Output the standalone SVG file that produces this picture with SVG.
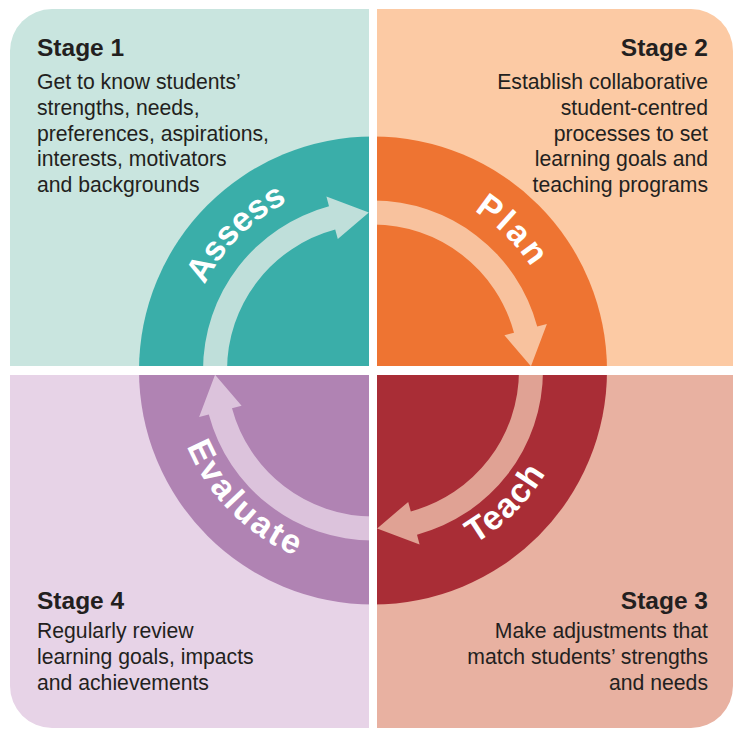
<svg xmlns="http://www.w3.org/2000/svg" xmlns:xlink="http://www.w3.org/1999/xlink" width="734" height="730" viewBox="0 0 734 730">
<style>
.t{font-family:"Liberation Sans",Arial,sans-serif;font-weight:bold;font-size:24.5px;fill:#231f20}
.b{font-family:"Liberation Sans",Arial,sans-serif;font-size:21.2px;fill:#231f20}
.r{text-anchor:end}
.lab{font-family:"Liberation Sans",Arial,sans-serif;font-weight:bold;font-size:34px;fill:#ffffff;text-anchor:middle}
</style>
<defs>
<path id="arcTop" d="M 184,370.5 A 189 189 0 0 1 562,370.5"/>
<path id="arcBot" d="M 172,370.5 A 201 201 0 0 0 574,370.5"/>
<path id="arrow" d="M -146,0 L -170,0 A 170 170 0 0 1 -44.0,-164.2 L -46.6,-173.9 L -4.14,-157.95 L -35.2,-131.4 L -37.8,-141.0 A 146 146 0 0 0 -146,0 Z"/>
</defs>
<rect x="0" y="0" width="734" height="730" fill="#ffffff"/>
<g id="stage1">
<path d="M 10,370.5 L 10,51 A 42 42 0 0 1 52,9 L 373,9 L 373,370.5 Z" fill="#c9e5df"/>
<path d="M 373,370.5 L 139,370.5 A 234 234 0 0 1 373,136.5 Z" fill="#3aaea9"/>
<text class="lab"><textPath href="#arcTop" startOffset="25%">Assess</textPath></text>
<text class="t" x="37" y="56">Stage 1</text>
<text class="b" x="37" y="89">Get to know students’</text>
<text class="b" x="37" y="114.75">strengths, needs,</text>
<text class="b" x="37" y="140.5">preferences, aspirations,</text>
<text class="b" x="37" y="166.25">interests, motivators</text>
<text class="b" x="37" y="192">and backgrounds</text>
</g>
<g id="stage2">
<path d="M 373,9 L 691,9 A 42 42 0 0 1 733,51 L 733,370.5 L 373,370.5 Z" fill="#fccaa4"/>
<path d="M 373,370.5 L 373,136.5 A 234 234 0 0 1 607,370.5 Z" fill="#ee7432"/>
<text class="lab" style="letter-spacing:3px"><textPath href="#arcTop" startOffset="75%">Plan</textPath></text>
<text class="t r" x="708" y="56">Stage 2</text>
<text class="b r" x="708" y="89">Establish collaborative</text>
<text class="b r" x="708" y="114.75">student-centred</text>
<text class="b r" x="708" y="140.5">processes to set</text>
<text class="b r" x="708" y="166.25">learning goals and</text>
<text class="b r" x="708" y="192">teaching programs</text>
</g>
<g id="stage3">
<path d="M 373,370.5 L 733,370.5 L 733,686 A 42 42 0 0 1 691,728 L 373,728 Z" fill="#e8b1a1"/>
<path d="M 373,370.5 L 607,370.5 A 234 234 0 0 1 373,604.5 Z" fill="#a92d36"/>
<text class="lab" style="letter-spacing:1.3px"><textPath href="#arcBot" startOffset="75%">Teach</textPath></text>
<text class="t r" x="708" y="608.5">Stage 3</text>
<text class="b r" x="708" y="638">Make adjustments that</text>
<text class="b r" x="708" y="663.75">match students’ strengths</text>
<text class="b r" x="708" y="689.5">and needs</text>
</g>
<g id="stage4">
<path d="M 10,370.5 L 373,370.5 L 373,728 L 52,728 A 42 42 0 0 1 10,686 Z" fill="#e7d3e7"/>
<path d="M 373,370.5 L 373,604.5 A 234 234 0 0 1 139,370.5 Z" fill="#b083b3"/>
<text class="lab" style="letter-spacing:2.6px"><textPath href="#arcBot" startOffset="25%">Evaluate</textPath></text>
<text class="t" x="37" y="609">Stage 4</text>
<text class="b" x="37" y="638">Regularly review</text>
<text class="b" x="37" y="663.75">learning goals, impacts</text>
<text class="b" x="37" y="689.5">and achievements</text>
</g>
<g id="connectors">
<use href="#arrow" transform="translate(373 370.5)" fill="#bfdfda"/>
<use href="#arrow" transform="translate(373 370.5) rotate(90)" fill="#f8c29e"/>
<use href="#arrow" transform="translate(373 370.5) rotate(180)" fill="#e0a294"/>
<use href="#arrow" transform="translate(373 370.5) rotate(270)" fill="#dcc3dc"/>
</g>
<g id="gaps" fill="#ffffff">
<rect x="369" y="0" width="8" height="730"/>
<rect x="0" y="366" width="734" height="9"/>
</g>
</svg>
